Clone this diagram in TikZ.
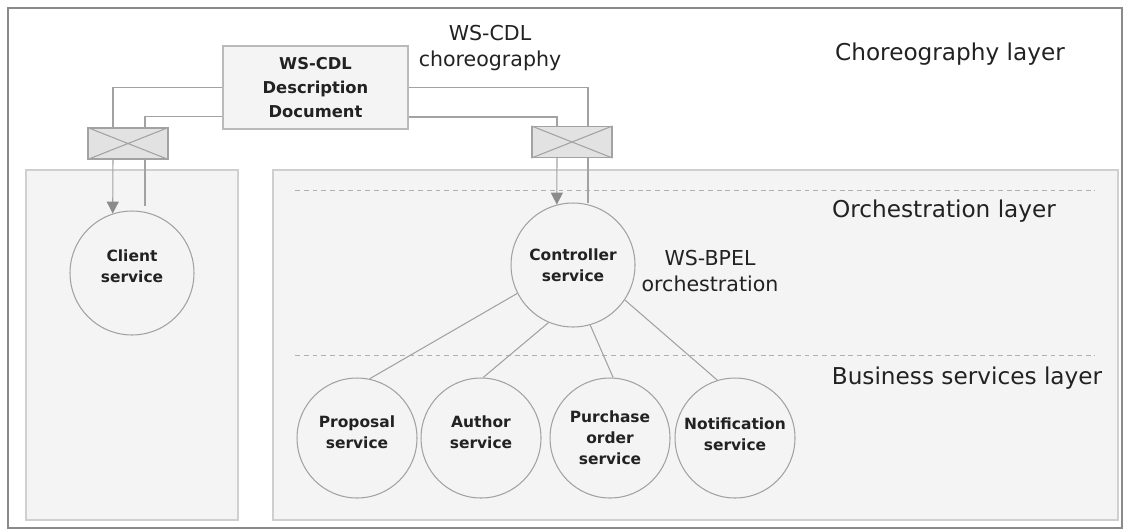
\documentclass[tikz,border=0pt]{standalone}
\usepackage{fontspec}
\setmainfont{DejaVu Sans}
\usetikzlibrary{arrows.meta}
\definecolor{inkc}{HTML}{222222}
\definecolor{wirec}{HTML}{A2A2A2}
\definecolor{panelfill}{HTML}{F4F4F4}
\definecolor{panelline}{HTML}{CFCFCF}
\definecolor{gatefill}{HTML}{E2E2E2}
\definecolor{framec}{HTML}{8A8A8A}
\definecolor{tipc}{HTML}{8C8C8C}
\begin{document}
\begin{tikzpicture}[x=0.02cm,y=-0.02cm,
  wire/.style={draw=wirec, line width=0.6pt},
  sep/.style={draw=wirec!85, line width=0.5pt, dash pattern=on 2.8pt off 2.2pt},
  panel/.style={draw=panelline, fill=panelfill, line width=0.6pt},
  svc/.style={circle, draw=wirec, line width=0.6pt, fill=panelfill, minimum size=2.4cm, inner sep=0pt},
  bigsvc/.style={svc, minimum size=2.48cm},
  boldtxt/.style={font=\fontsize{8.8}{12}\selectfont\bfseries, text=inkc, align=center, inner sep=0pt},
  note/.style={font=\fontsize{11.7}{15.2}\selectfont, text=inkc, align=center, inner sep=0pt},
  layer/.style={font=\fontsize{13.2}{16}\selectfont, text=inkc, inner sep=0pt},
  docbox/.style={draw=panelline!90!black, fill=panelfill, line width=0.6pt, minimum width=3.7cm,
    minimum height=1.66cm, inner sep=0pt, align=center, text=inkc,
    font=\fontsize{9.3}{13.6}\selectfont\bfseries},
  gate/.style={draw=wirec, fill=gatefill, line width=0.6pt, minimum width=1.6cm,
    minimum height=0.62cm, inner sep=0pt},
  tip/.style={-{Triangle[length=0.24cm,width=0.24cm,color=tipc]}}]

\useasboundingbox (0,0) rectangle (1124,531);
\fill[white] (0,0) rectangle (1124,531);
\draw[framec, line width=0.8pt] (8,8) rectangle (1122,528);

% layer panels
\draw[panel] (26,170) rectangle (238,520);
\draw[panel] (273,170) rectangle (1118,520);
\draw[sep] (295,190) -- (1095,190);
\draw[sep] (295,355) -- (1095,355);

% choreography description and its two gateways
\node[docbox] (doc) at (315.5,87.5) {WS-CDL\\Description\\Document};
\node[gate] (lx) at (128,143.5) {};
\node[gate] (rx) at (572,142) {};
\draw[wire] (lx.north west) -- (lx.south east) (lx.south west) -- (lx.north east);
\draw[wire] (rx.north west) -- (rx.south east) (rx.south west) -- (rx.north east);

% services
\node[bigsvc] (client) at (132,273) {};
\node[boldtxt] (client-t) at ([yshift=0.13cm]client.center) {Client\\service};
\node[bigsvc] (ctrl) at (573,265) {};
\node[boldtxt] (ctrl-t) at (ctrl.center) {Controller\\service};
\node[svc] (prop) at (357,438) {};
\node[boldtxt] (prop-t) at ([yshift=0.12cm]prop.center) {Proposal\\service};
\node[svc] (auth) at (481,438) {};
\node[boldtxt] (auth-t) at ([yshift=0.12cm]auth.center) {Author\\service};
\node[svc] (purch) at (610,438) {};
\node[boldtxt] (purch-t) at (purch.center) {Purchase\\order\\service};
\node[svc] (notif) at (735,438) {};
\node[boldtxt] (notif-t) at ([yshift=0.08cm]notif.center) {Notification\\service};

% vertical positions of the message lines
\coordinate (xa) at (113,0);
\coordinate (xb) at (145,0);
\coordinate (xc) at (557,0);
\coordinate (xd) at (588,0);

% client side
\draw[wire] (doc.west) -| (lx.north -| xa);
\draw[wire] ([yshift=0.26cm]doc.south west) -| (lx.north -| xb);
\draw[wire, tip] (lx.south -| xa) -- (client.108);
\draw[wire] (lx.south -| xb) -- ++(0,46);

% controller side
\draw[wire] (doc.east) -| (rx.north -| xd);
\draw[wire] ([yshift=0.25cm]doc.south east) -| (rx.north -| xc);
\draw[wire, tip] (rx.south -| xc) -- (ctrl.105);
\draw[wire] (rx.south -| xd) -- ++(0,45);

% orchestration links
\draw[wire] (ctrl.207) -- (prop.78);
\draw[wire] (ctrl.247) -- (auth.88);
\draw[wire] (ctrl.286) -- (purch.87);
\draw[wire] (ctrl.326) -- (notif.107);

% annotations
\node[note] (cdl-note) at (490,48) {WS-CDL\\choreography};
\node[note, font=\fontsize{11.7}{14.4}\selectfont] (bpel-note) at (710,271) {WS-BPEL\\orchestration};
\node[layer] (lay-c) at (950,54) {Choreography layer};
\node[layer] (lay-o) at (944,211) {Orchestration layer};
\node[layer] (lay-b) at (967,378) {Business services layer};
\end{tikzpicture}
\end{document}
